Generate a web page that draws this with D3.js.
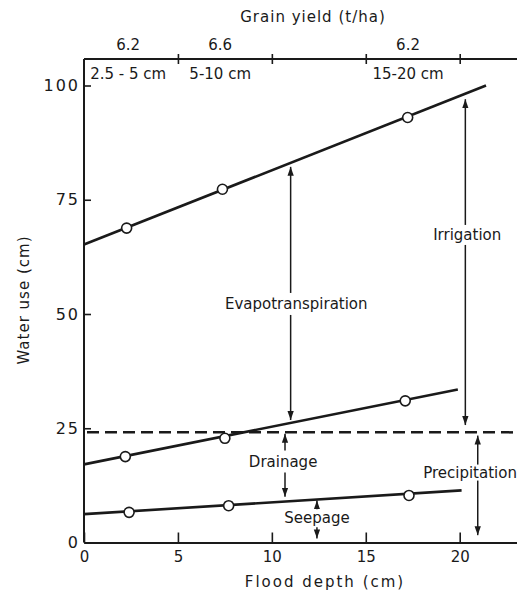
<!DOCTYPE html>
<html>
<head>
<meta charset="utf-8">
<script src="https://cdn.jsdelivr.net/npm/d3@7"></script>
<style>
  html, body { margin: 0; padding: 0; background: #fff; }
  svg { display: block; }
  text { font-family: "DejaVu Sans", sans-serif; fill: #1a1a1a; }
</style>
</head>
<body>
<svg id="chart" width="517" height="592"></svg>
<script>
// ---------------- data ----------------
const xTicks = [0, 5, 10, 15, 20];
const yTicks = [0, 25, 50, 75, 100];
const topTicks = [5, 10, 15, 20];

const depthRanges = ["2.5 - 5 cm", "5-10 cm", "15-20 cm"];
const grainYield = ["6.2", "6.6", "6.2"];
const categoryX = [2.35, 7.25, 17.25];

// total water use (irrigation + precipitation)
const totalX = [2.27, 7.37, 17.23];
const totalY = [68.8, 77.3, 93.0];
const totalFitX = [0, 21.4];
const totalFitY = [65.2, 100.0];

// drainage + seepage
const drainX = [2.2, 7.5, 17.1];
const drainY = [18.8, 22.8, 31.0];
const drainFitX = [0, 19.9];
const drainFitY = [17.1, 33.5];

// seepage
const seepX = [2.4, 7.7, 17.3];
const seepY = [6.6, 8.05, 10.3];
const seepFitX = [0, 20.1];
const seepFitY = [6.2, 11.4];

const precipitation = 24.1;

// annotations: label, x (cm), from/to (cm water), label y (cm water)
const annotations = [
  { label: "Evapotranspiration", x: 11.0, lo: 26.8, hi: 82.2, ly: 52.2, lx: 11.3, gap: 11 },
  { label: "Irrigation", x: 20.3, lo: 25.7, hi: 97.0, ly: 67.3, lx: 20.4, gap: 10 },
  { label: "Drainage", x: 10.7, lo: 10.0, hi: 23.8, ly: 17.7, lx: 10.6, gap: 11 },
  { label: "Seepage", x: 12.4, lo: 0.9, hi: 9.2, ly: 5.3, lx: 12.4, gap: 9 },
  { label: "Precipitation", x: 20.96, lo: 1.6, hi: 23.4, ly: 15.3, lx: 20.55, gap: 8 }
];

// ---------------- drawing ----------------
const svg = d3.select("#chart");
const ink = "#1a1a1a";

const x = d3.scaleLinear().domain([0, 23.05]).range([84, 517]);
const y = d3.scaleLinear().domain([0, 100]).range([542.5, 85.5]);
const yFrameTop = 105.8;

// arrow marker
const defs = svg.append("defs");
defs.append("marker")
  .attr("id", "ah")
  .attr("viewBox", "0 0 10 10")
  .attr("refX", 10).attr("refY", 5)
  .attr("markerWidth", 9).attr("markerHeight", 9)
  .attr("markerUnits", "userSpaceOnUse")
  .attr("orient", "auto")
  .append("path").attr("d", "M0,1.5 L10,5 L0,8.5 Z").attr("fill", ink);

// frame: top line
svg.append("line")
  .attr("x1", x(0)).attr("x2", x(23.05))
  .attr("y1", y(yFrameTop)).attr("y2", y(yFrameTop))
  .attr("stroke", ink).attr("stroke-width", 2);
// left axis line
svg.append("line")
  .attr("x1", x(0)).attr("x2", x(0))
  .attr("y1", y(yFrameTop)).attr("y2", y(0))
  .attr("stroke", ink).attr("stroke-width", 2);

// bottom axis
const xAxis = svg.append("g")
  .attr("transform", `translate(0,${y(0)})`)
  .call(d3.axisBottom(x).tickValues(xTicks).tickSizeInner(-10).tickSizeOuter(0).tickPadding(9).tickFormat(d3.format("d")));
xAxis.select(".domain").attr("stroke", ink).attr("stroke-width", 2);
xAxis.selectAll(".tick line").attr("stroke", ink).attr("stroke-width", 1.6);
xAxis.selectAll(".tick text").attr("font-size", 15).attr("fill", ink).attr("font-family", "DejaVu Sans");

// left axis ticks
const yAxis = svg.append("g")
  .attr("transform", `translate(${x(0)},0)`)
  .call(d3.axisLeft(y).tickValues(yTicks).tickSizeInner(-7).tickSizeOuter(0).tickPadding(4).tickFormat(d3.format("d")));
yAxis.select(".domain").remove();
yAxis.selectAll(".tick line").attr("stroke", ink).attr("stroke-width", 1.6);
yAxis.selectAll(".tick text").attr("font-size", 16).attr("fill", ink).attr("font-family", "DejaVu Sans").attr("letter-spacing", 2);

// top axis ticks crossing the line
const topAxis = svg.append("g")
  .attr("transform", `translate(0,${y(yFrameTop)})`)
  .call(d3.axisTop(x).tickValues(topTicks).tickSizeInner(5).tickSizeOuter(0).tickFormat(""));
topAxis.select(".domain").remove();
topAxis.selectAll(".tick line").attr("stroke", ink).attr("stroke-width", 1.6).attr("y2", 5).attr("y1", -5);

// top labels
svg.append("g").selectAll("text").data(grainYield).join("text")
  .attr("x", (d, i) => x(categoryX[i])).attr("y", 45)
  .attr("text-anchor", "middle").attr("dominant-baseline", "central")
  .attr("font-size", 15).text(d => d);
svg.append("g").selectAll("text").data(depthRanges).join("text")
  .attr("x", (d, i) => x(categoryX[i])).attr("y", 74)
  .attr("text-anchor", "middle").attr("dominant-baseline", "central")
  .attr("font-size", 15).text(d => d);

// axis titles
svg.append("text").attr("x", 313).attr("y", 17)
  .attr("text-anchor", "middle").attr("dominant-baseline", "central")
  .attr("font-size", 15).attr("letter-spacing", 1).text("Grain yield (t/ha)");
svg.append("text").attr("x", 325).attr("y", 582)
  .attr("text-anchor", "middle").attr("dominant-baseline", "central")
  .attr("font-size", 15).attr("letter-spacing", 2).text("Flood depth (cm)");
svg.append("text")
  .attr("transform", "translate(24,300) rotate(-90)")
  .attr("text-anchor", "middle").attr("dominant-baseline", "central")
  .attr("font-size", 15).attr("letter-spacing", 1).text("Water use (cm)");

// precipitation dashed line
svg.append("line")
  .attr("x1", x(0) + 3).attr("x2", x(23.05))
  .attr("y1", y(precipitation)).attr("y2", y(precipitation))
  .attr("stroke", ink).attr("stroke-width", 2.5).attr("stroke-dasharray", "12,6");

// fitted lines and points
const line = d3.line().x(d => x(d[0])).y(d => y(d[1]));
const seriesList = [
  { fx: totalFitX, fy: totalFitY, px: totalX, py: totalY },
  { fx: drainFitX, fy: drainFitY, px: drainX, py: drainY },
  { fx: seepFitX, fy: seepFitY, px: seepX, py: seepY }
];
seriesList.forEach(s => {
  svg.append("path")
    .attr("d", line(d3.zip(s.fx, s.fy)))
    .attr("fill", "none").attr("stroke", ink).attr("stroke-width", 2.6);
  svg.append("g").selectAll("circle").data(d3.zip(s.px, s.py)).join("circle")
    .attr("cx", d => x(d[0])).attr("cy", d => y(d[1])).attr("r", 5)
    .attr("fill", "#fff").attr("stroke", ink).attr("stroke-width", 1.6);
});

// annotations: double-headed arrows broken by a label
annotations.forEach(a => {
  const ly = y(a.ly);
  svg.append("line")
    .attr("x1", x(a.x)).attr("x2", x(a.x))
    .attr("y1", ly - a.gap).attr("y2", y(a.hi))
    .attr("stroke", ink).attr("stroke-width", 1.5).attr("marker-end", "url(#ah)");
  svg.append("line")
    .attr("x1", x(a.x)).attr("x2", x(a.x))
    .attr("y1", ly + a.gap).attr("y2", y(a.lo))
    .attr("stroke", ink).attr("stroke-width", 1.5).attr("marker-end", "url(#ah)");
  svg.append("text")
    .attr("x", x(a.lx)).attr("y", ly)
    .attr("text-anchor", "middle").attr("dominant-baseline", "central")
    .attr("font-size", 15).text(a.label);
});
</script>
</body>
</html>
